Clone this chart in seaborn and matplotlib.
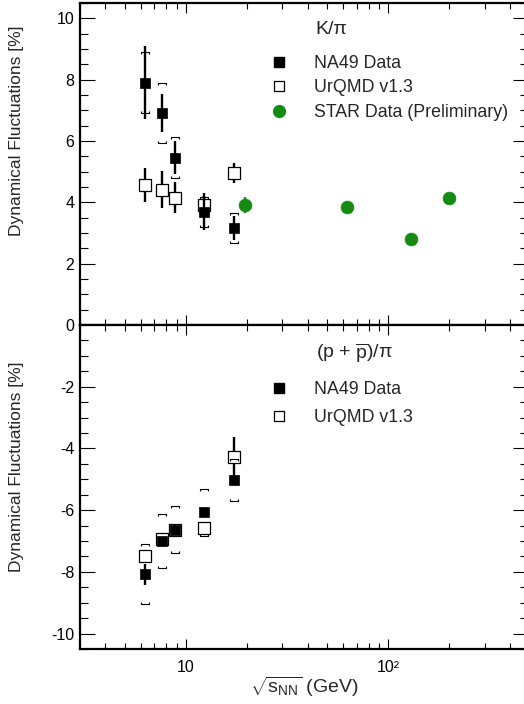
import matplotlib
matplotlib.use("Agg")
import matplotlib.pyplot as plt
from matplotlib.lines import Line2D
from matplotlib.ticker import MultipleLocator, LogLocator, NullFormatter, FixedLocator
import numpy as np
import pandas as pd
import seaborn as sns

# ---------------- data ----------------
sqrt_s_na49 = [6.3, 7.6, 8.8, 12.3, 17.3]
sqrt_s_star = [19.6, 62.4, 130.0, 200.0]

kpi_na49 = [7.90, 6.90, 5.46, 3.69, 3.15]
kpi_na49_stat = [1.19, 0.62, 0.54, 0.60, 0.39]
kpi_na49_sys = [0.99, 0.98, 0.66, 0.48, 0.49]
kpi_urqmd = [4.57, 4.41, 4.15, 3.92, 4.95]
kpi_urqmd_err = [0.55, 0.60, 0.50, 0.30, 0.33]
kpi_star = [3.92, 3.86, 2.79, 4.14]
kpi_star_err = [0.27, 0.15, 0.15, 0.15]

ppi_na49 = [-8.08, -7.01, -6.63, -6.07, -5.01]
ppi_na49_stat = [0.35, 0.15, 0.15, 0.15, 0.15]
ppi_na49_sys = [0.97, 0.88, 0.76, 0.77, 0.68]
ppi_urqmd = [-7.47, -6.95, -6.63, -6.57, -4.27]
ppi_urqmd_err = [0.15, 0.15, 0.15, 0.20, 0.63]

x_tick_values = [10, 100]
x_tick_labels = ["10", "10²"]
top_y_ticks = [0, 2, 4, 6, 8, 10]
bottom_y_ticks = [-10, -8, -6, -4, -2]

label_na49 = "NA49 Data"
label_urqmd = "UrQMD v1.3"
label_star = "STAR Data (Preliminary)"
title_top = "K/π"
title_bottom = r"(p + $\overline{\mathrm{p}}$)/π"
ylabel = "Dynamical Fluctuations [%]"
xlabel = r"$\sqrt{s_{\mathrm{NN}}}$ (GeV)"

# ---------------- style ----------------
sns.set_theme(style="ticks")
plt.rcParams["font.family"] = ["Liberation Sans", "DejaVu Sans"]
plt.rcParams["mathtext.fontset"] = "custom"
plt.rcParams["mathtext.rm"] = "Liberation Sans"
plt.rcParams["mathtext.it"] = "Liberation Sans"
plt.rcParams["mathtext.bf"] = "Liberation Sans:bold"
plt.rcParams["axes.unicode_minus"] = False

GREEN = "#148c14"

fig = plt.figure(figsize=(5.24, 7.04), dpi=100)
W, H = 524.0, 704.0
left = 80 / W
width = 448 / W
ax_top = fig.add_axes([left, 1 - 325 / H, width, 322 / H])
ax_bot = fig.add_axes([left, 1 - 649 / H, width, 324 / H])

bracket_top = [(-1, -0.45), (-1, 0), (1, 0), (1, -0.45)]
bracket_bot = [(-1, 0.45), (-1, 0), (1, 0), (1, 0.45)]


def draw_sys(ax, x, y, sys):
    y = np.asarray(y)
    s = np.asarray(sys)
    ax.plot(x, y + s, ls="none", marker=bracket_top, ms=5.5, mec="black",
            mfc="none", mew=0.8, zorder=6)
    ax.plot(x, y - s, ls="none", marker=bracket_bot, ms=5.5, mec="black",
            mfc="none", mew=0.8, zorder=6)


def draw_panel(ax, na49, na49_stat, na49_sys, urqmd, urqmd_err, star=None, star_err=None):
    # UrQMD (open squares)
    ax.errorbar(sqrt_s_na49, urqmd, yerr=urqmd_err, fmt="none", ecolor="black",
                elinewidth=1.7, capsize=0, zorder=2)
    sns.scatterplot(x=sqrt_s_na49, y=urqmd, ax=ax, marker="s", s=72,
                    color="white", edgecolor="black", linewidth=0.9, zorder=3)
    # NA49 (filled squares)
    ax.errorbar(sqrt_s_na49, na49, yerr=na49_stat, fmt="none", ecolor="black",
                elinewidth=1.7, capsize=0, zorder=4)
    sns.scatterplot(x=sqrt_s_na49, y=na49, ax=ax, marker="s", s=62,
                    color="black", edgecolor="black", linewidth=0.5, zorder=5)
    draw_sys(ax, sqrt_s_na49, na49, na49_sys)
    if star is not None:
        ax.errorbar(sqrt_s_star, star, yerr=star_err, fmt="none", ecolor=GREEN,
                    elinewidth=1.7, capsize=0, zorder=4)
        sns.scatterplot(x=sqrt_s_star, y=star, ax=ax, marker="o", s=85,
                        color=GREEN, edgecolor=GREEN, linewidth=0.5, zorder=5)


draw_panel(ax_top, kpi_na49, kpi_na49_stat, kpi_na49_sys, kpi_urqmd, kpi_urqmd_err,
           kpi_star, kpi_star_err)
draw_panel(ax_bot, ppi_na49, ppi_na49_stat, ppi_na49_sys, ppi_urqmd, ppi_urqmd_err)

for ax in (ax_top, ax_bot):
    ax.set_xscale("log")
    ax.set_xlim(3, 490)
    ax.xaxis.set_major_locator(FixedLocator(x_tick_values))
    ax.xaxis.set_minor_locator(LogLocator(base=10, subs=np.arange(2, 10)))
    ax.xaxis.set_minor_formatter(NullFormatter())
    ax.yaxis.set_minor_locator(MultipleLocator(0.5))
    for sp in ax.spines.values():
        sp.set_linewidth(1.6)
        sp.set_color("black")
    ax.tick_params(axis="both", which="both", direction="in", top=True, right=True,
                   colors="black", labelsize=11.5, width=0.8)
    ax.tick_params(axis="y", which="major", length=11, pad=4)
    ax.tick_params(axis="y", which="minor", length=5.5)
    ax.tick_params(axis="x", which="major", length=7, pad=8)
    ax.tick_params(axis="x", which="minor", length=4)
    ax.set_ylabel(ylabel, fontsize=12.5)
    ax.set_xlabel("")
    ax.grid(False)

ax_top.set_ylim(0, 10.5)
ax_top.set_yticks(top_y_ticks)
ax_top.set_xticklabels([])
ax_top.yaxis.set_label_coords(-0.124, 0.602)

ax_bot.set_ylim(-10.5, 0)
ax_bot.set_yticks(bottom_y_ticks)
ax_bot.set_xticklabels(x_tick_labels)
ax_bot.yaxis.set_label_coords(-0.124, 0.563)
ax_bot.set_xlabel(xlabel, fontsize=14, labelpad=0)

# panel titles
ax_top.text(0.526, 0.919, title_top, transform=ax_top.transAxes, fontsize=14,
            ha="left", va="center")
ax_bot.text(0.526, 0.912, title_bottom, transform=ax_bot.transAxes, fontsize=14,
            ha="left", va="center")

# legends
h_na49 = Line2D([], [], ls="none", marker="s", ms=7.2, mfc="black", mec="black")
h_urqmd = Line2D([], [], ls="none", marker="s", ms=7.2, mfc="white", mec="black", mew=0.9)
h_star = Line2D([], [], ls="none", marker="o", ms=8.5, mfc=GREEN, mec=GREEN)

leg_kw = dict(frameon=False, loc="upper left", borderaxespad=0, borderpad=0,
              handlelength=1.0, handletextpad=1.45, fontsize=12.8)
ax_top.legend([h_na49, h_urqmd, h_star], [label_na49, label_urqmd, label_star],
              bbox_to_anchor=(0.424, 0.839), labelspacing=0.43, **leg_kw)
ax_bot.legend([h_na49, h_urqmd], [label_na49, label_urqmd],
              bbox_to_anchor=(0.424, 0.828), labelspacing=0.66, **leg_kw)

fig.savefig("out.png", dpi=100)
